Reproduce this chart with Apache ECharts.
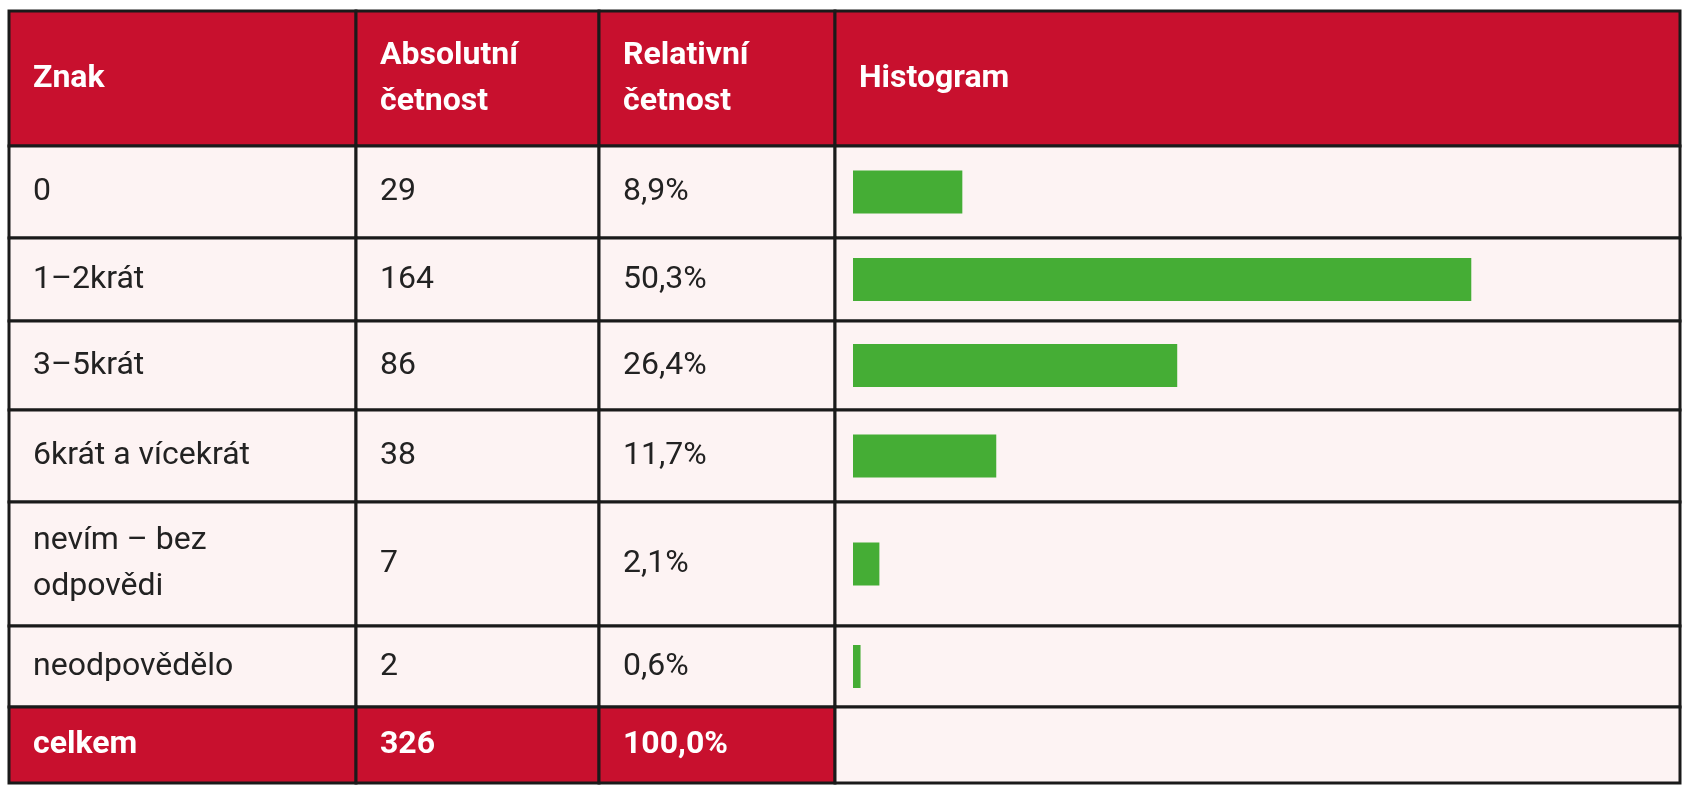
<!DOCTYPE html>
<html>
<head>
<meta charset="utf-8">
<script src="https://cdn.jsdelivr.net/npm/echarts@6/dist/echarts.min.js"></script>
<style>html,body{margin:0;background:#fff}#chart{width:1693px;height:800px}</style>
</head>
<body>
<div id="chart"></div>
<script>
// data
var categories = ['0', '1–2krát', '3–5krát', '6krát a vícekrát', 'nevím – bez\nodpovědi', 'neodpovědělo'];
var absolute = [29, 164, 86, 38, 7, 2];
var relative = ['8,9%', '50,3%', '26,4%', '11,7%', '2,1%', '0,6%'];
var headers = ['Znak', 'Absolutní\nčetnost', 'Relativní\nčetnost', 'Histogram'];
var total = ['celkem', '326', '100,0%'];

// layout of the table
var colX = [9, 356, 599, 835, 1680];
var rowY = [11, 146, 238, 321, 410, 502, 626, 707, 783];
var RED = '#c8102e', PINK = '#fdf3f3', LINE = '#1a1a1a';
var FONT = '"Liberation Sans Narrow", "Roboto", sans-serif';

var graphic = [];
function cell(c, r, fill, text, bold) {
    var x = colX[c], y = rowY[r], w = colX[c + 1] - x, h = rowY[r + 1] - y;
    graphic.push({ type: 'rect', shape: { x: x, y: y, width: w, height: h },
        style: { fill: fill, stroke: LINE, lineWidth: 3 }, z: 0 });
    if (text) {
        graphic.push({ type: 'text', x: x + 24, y: y + h / 2, z: 5,
            style: { text: text, fill: fill === RED ? '#fff' : '#222', font: (bold ? 'bold ' : '') + '32px ' + FONT,
                verticalAlign: 'middle', lineHeight: 46 } });
    }
}
for (var c = 0; c < 4; c++) cell(c, 0, RED, headers[c], true);
for (var r = 0; r < categories.length; r++) {
    cell(0, r + 1, PINK, categories[r]);
    cell(1, r + 1, PINK, String(absolute[r]));
    cell(2, r + 1, PINK, relative[r]);
    cell(3, r + 1, PINK, '');
}
for (var c = 0; c < 3; c++) cell(c, 7, RED, total[c], true);
cell(3, 7, PINK, '');

// one grid per row, all sharing the same x scale
var grids = [], xAxes = [], yAxes = [], series = [];
for (var i = 0; i < categories.length; i++) {
    grids.push({ left: 853, right: 86, top: rowY[i + 1], height: rowY[i + 2] - rowY[i + 1] });
    xAxes.push({ gridIndex: i, type: 'value', min: 0, max: 200, show: false });
    yAxes.push({ gridIndex: i, type: 'category', data: [categories[i]], show: false });
    series.push({ type: 'bar', xAxisIndex: i, yAxisIndex: i, barWidth: 43,
        itemStyle: { color: '#45ad35' }, data: [absolute[i]], z: 10, silent: true });
}

var myChart = echarts.init(document.getElementById('chart'));
myChart.setOption({
    animation: false,
    grid: grids,
    xAxis: xAxes,
    yAxis: yAxes,
    series: series,
    graphic: graphic
});
</script>
</body>
</html>
